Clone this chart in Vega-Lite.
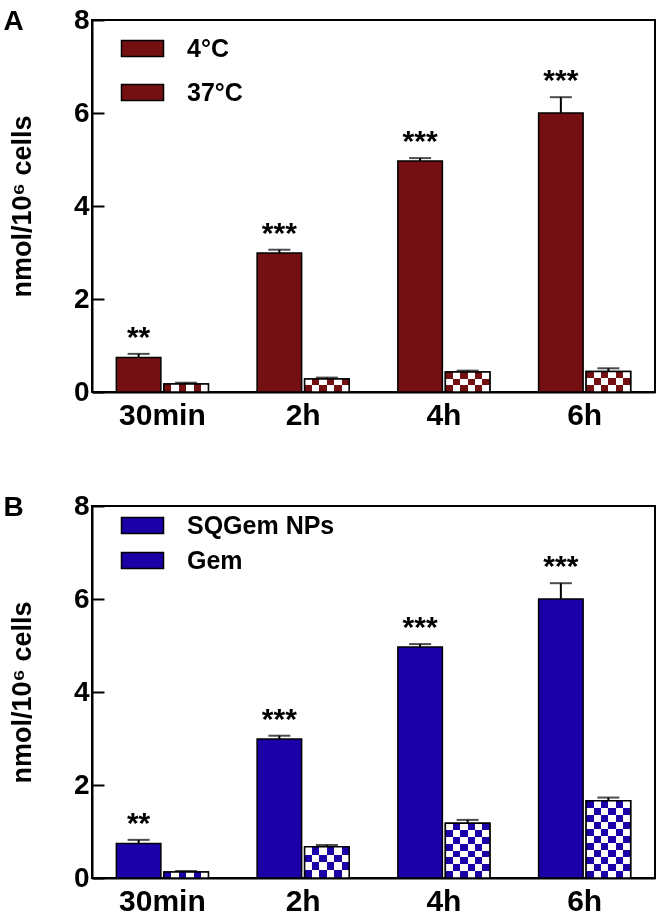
{
  "$schema": "https://vega.github.io/schema/vega-lite/v6.json",
  "padding": {"left": 2, "top": 5, "right": 0, "bottom": 0},
  "spacing": 60,
  "resolve": {"scale": {"xOffset": "independent"}},
  "config": {
    "font": "Liberation Sans",
    "view": {"stroke": "black", "strokeWidth": 2},
    "axis": {"grid": false, "labelFontWeight": "bold", "titleFontWeight": "bold", "labelColor": "black", "titleColor": "black", "domainColor": "black", "tickColor": "black", "labelFont": "Liberation Sans", "titleFont": "Liberation Sans"},
    "legend": {"labelFont": "Liberation Sans", "labelFontWeight": "bold", "labelColor": "black"}
  },
  "vconcat": [
    {
      "width": 563,
      "height": 372,
      "title": {"text": "A", "anchor": "start", "frame": "bounds", "baseline": "top", "offset": -30, "dx": -5, "fontSize": 28, "fontWeight": "bold", "font": "Liberation Sans", "color": "black"},
      "data": {"values": [
        {"time": "30min", "series": "37°C", "mean": 0.74, "err": 0.08, "sig": "**"},
        {"time": "2h", "series": "37°C", "mean": 2.99, "err": 0.07, "sig": "***"},
        {"time": "4h", "series": "37°C", "mean": 4.97, "err": 0.06, "sig": "***"},
        {"time": "6h", "series": "37°C", "mean": 6.0, "err": 0.34, "sig": "***"},
        {"time": "30min", "series": "4°C", "mean": 0.17, "err": 0.03, "sig": null},
        {"time": "2h", "series": "4°C", "mean": 0.28, "err": 0.03, "sig": null},
        {"time": "4h", "series": "4°C", "mean": 0.43, "err": 0.03, "sig": null},
        {"time": "6h", "series": "4°C", "mean": 0.44, "err": 0.07, "sig": null}
      ]},
      "transform": [{"calculate": "datum.mean + datum.err", "as": "hi"}],
      "encoding": {
        "x": {"field": "time", "type": "nominal", "scale": {"domain": ["30min", "2h", "4h", "6h"], "paddingInner": 0.346, "paddingOuter": 0.173}, "axis": {"title": null, "labelAngle": 0, "ticks": false, "labelFontSize": 30, "labelPadding": 8, "domainWidth": 2}},
        "xOffset": {"field": "series", "type": "nominal", "scale": {"domain": ["37°C", "4°C"], "paddingInner": 0.063}},
        "y": {"field": "mean", "type": "quantitative", "scale": {"domain": [0, 8], "nice": false}, "axis": {"title": "nmol/10⁶ cells", "values": [0, 2, 4, 6, 8], "tickSize": -12, "tickWidth": 2, "domainWidth": 2, "labelFontSize": 28, "labelPadding": 15, "titleFontSize": 27, "titlePadding": 37}}
      },
      "layer": [
        {"mark": {"type": "rule", "color": "black", "strokeWidth": 2}, "encoding": {"y": {"field": "hi", "type": "quantitative"}, "y2": {"field": "mean"}}},
        {"mark": {"type": "tick", "color": "black", "thickness": 2, "size": 22, "orient": "horizontal"}, "encoding": {"y": {"field": "hi", "type": "quantitative"}}},
        {"mark": {"type": "bar", "stroke": "black", "strokeWidth": 1.5},
         "encoding": {"fill": {"field": "series", "type": "nominal", "scale": {"domain": ["4°C", "37°C"], "range": ["#741012", "#741012"]},
           "legend": {"orient": "none", "legendX": 38, "legendY": 16, "title": null, "symbolType": "M-2.1,-0.8H2.1V0.8H-2.1Z", "symbolSize": 400, "labelFontSize": 25, "labelOffset": 32, "rowPadding": 18, "symbolStrokeColor": "black", "symbolStrokeWidth": 1.5, "symbolOpacity": 1}}}},
        {"transform": [{"filter": "datum.series === '4°C'"}],
         "mark": {"type": "bar", "fill": {"gradient": "linear", "x1": 0, "y1": 0, "x2": 1, "y2": 0, "stops": [
           {"offset": 0, "color": "black"}, {"offset": 0.1667, "color": "black"}, {"offset": 0.1667, "color": "white"}, {"offset": 0.3333, "color": "white"},
           {"offset": 0.3333, "color": "black"}, {"offset": 0.5, "color": "black"}, {"offset": 0.5, "color": "white"}, {"offset": 0.6667, "color": "white"},
           {"offset": 0.6667, "color": "black"}, {"offset": 0.8333, "color": "black"}, {"offset": 0.8333, "color": "white"}, {"offset": 1, "color": "white"}]}}},
        {"transform": [{"filter": "datum.series === '4°C' && datum.time === '30min'"}],
         "mark": {"type": "bar", "blend": "difference", "fill": "black"}},
        {"transform": [{"filter": "datum.series === '4°C' && datum.time === '2h'"}],
         "mark": {"type": "bar", "blend": "difference", "fill": {"gradient": "linear", "x1": 0, "y1": 1, "x2": 0, "y2": 0, "stops": [{"offset": 0, "color": "black"}, {"offset": 0.5, "color": "black"}, {"offset": 0.5, "color": "white"}, {"offset": 1, "color": "white"}]}}},
        {"transform": [{"filter": "datum.series === '4°C' && (datum.time === '4h' || datum.time === '6h')"}],
         "mark": {"type": "bar", "blend": "difference", "fill": {"gradient": "linear", "x1": 0, "y1": 1, "x2": 0, "y2": 0, "stops": [{"offset": 0, "color": "black"}, {"offset": 0.3333, "color": "black"}, {"offset": 0.3333, "color": "white"}, {"offset": 0.6667, "color": "white"}, {"offset": 0.6667, "color": "black"}, {"offset": 1, "color": "black"}]}}},
        {"transform": [{"filter": "datum.series === '4°C'"}],
         "mark": {"type": "bar", "fill": "#741012", "blend": "lighten"}},
        {"transform": [{"filter": "datum.series === '4°C'"}],
         "mark": {"type": "bar", "fill": "white", "fillOpacity": 0, "stroke": "black", "strokeWidth": 1.5}},
        {"transform": [{"filter": "datum.sig !== null"}],
         "mark": {"type": "text", "font": "Liberation Sans", "fontWeight": "bold", "fontSize": 30, "baseline": "alphabetic", "dy": -7, "color": "black"},
         "encoding": {"y": {"field": "hi", "type": "quantitative"}, "text": {"field": "sig"}}}
      ]
    },
    {
      "width": 563,
      "height": 372,
      "title": {"text": "B", "anchor": "start", "frame": "bounds", "baseline": "top", "offset": -30, "dx": -5, "fontSize": 28, "fontWeight": "bold", "font": "Liberation Sans", "color": "black"},
      "data": {"values": [
        {"time": "30min", "series": "SQGem NPs", "mean": 0.74, "err": 0.08, "sig": "**"},
        {"time": "2h", "series": "SQGem NPs", "mean": 2.99, "err": 0.07, "sig": "***"},
        {"time": "4h", "series": "SQGem NPs", "mean": 4.97, "err": 0.06, "sig": "***"},
        {"time": "6h", "series": "SQGem NPs", "mean": 6.0, "err": 0.34, "sig": "***"},
        {"time": "30min", "series": "Gem", "mean": 0.13, "err": 0.02, "sig": null},
        {"time": "2h", "series": "Gem", "mean": 0.67, "err": 0.04, "sig": null},
        {"time": "4h", "series": "Gem", "mean": 1.18, "err": 0.07, "sig": null},
        {"time": "6h", "series": "Gem", "mean": 1.66, "err": 0.07, "sig": null}
      ]},
      "transform": [{"calculate": "datum.mean + datum.err", "as": "hi"}],
      "encoding": {
        "x": {"field": "time", "type": "nominal", "scale": {"domain": ["30min", "2h", "4h", "6h"], "paddingInner": 0.346, "paddingOuter": 0.173}, "axis": {"title": null, "labelAngle": 0, "ticks": false, "labelFontSize": 30, "labelPadding": 8, "domainWidth": 2}},
        "xOffset": {"field": "series", "type": "nominal", "scale": {"domain": ["SQGem NPs", "Gem"], "paddingInner": 0.063}},
        "y": {"field": "mean", "type": "quantitative", "scale": {"domain": [0, 8], "nice": false}, "axis": {"title": "nmol/10⁶ cells", "values": [0, 2, 4, 6, 8], "tickSize": -12, "tickWidth": 2, "domainWidth": 2, "labelFontSize": 28, "labelPadding": 15, "titleFontSize": 27, "titlePadding": 37}}
      },
      "layer": [
        {"mark": {"type": "rule", "color": "black", "strokeWidth": 2}, "encoding": {"y": {"field": "hi", "type": "quantitative"}, "y2": {"field": "mean"}}},
        {"mark": {"type": "tick", "color": "black", "thickness": 2, "size": 22, "orient": "horizontal"}, "encoding": {"y": {"field": "hi", "type": "quantitative"}}},
        {"mark": {"type": "bar", "stroke": "black", "strokeWidth": 1.5},
         "encoding": {"color": {"field": "series", "type": "nominal", "scale": {"domain": ["SQGem NPs", "Gem"], "range": ["#1A00A6", "#1A00A6"]},
           "legend": {"orient": "none", "legendX": 38, "legendY": 493, "title": null, "symbolType": "M-2.1,-0.8H2.1V0.8H-2.1Z", "symbolSize": 400, "labelFontSize": 25, "labelOffset": 32, "rowPadding": 9, "symbolStrokeColor": "black", "symbolStrokeWidth": 1.5, "symbolOpacity": 1}}}},
        {"transform": [{"filter": "datum.series === 'Gem'"}],
         "mark": {"type": "bar", "fill": {"gradient": "linear", "x1": 0, "y1": 0, "x2": 1, "y2": 0, "stops": [
           {"offset": 0, "color": "black"}, {"offset": 0.1667, "color": "black"}, {"offset": 0.1667, "color": "white"}, {"offset": 0.3333, "color": "white"},
           {"offset": 0.3333, "color": "black"}, {"offset": 0.5, "color": "black"}, {"offset": 0.5, "color": "white"}, {"offset": 0.6667, "color": "white"},
           {"offset": 0.6667, "color": "black"}, {"offset": 0.8333, "color": "black"}, {"offset": 0.8333, "color": "white"}, {"offset": 1, "color": "white"}]}}},
        {"transform": [{"filter": "datum.series === 'Gem' && datum.time === '30min'"}],
         "mark": {"type": "bar", "blend": "difference", "fill": "black"}},
        {"transform": [{"filter": "datum.series === 'Gem' && datum.time === '2h'"}],
         "mark": {"type": "bar", "blend": "difference", "fill": {"gradient": "linear", "x1": 0, "y1": 1, "x2": 0, "y2": 0, "stops": [{"offset": 0, "color": "black"}, {"offset": 0.25, "color": "black"}, {"offset": 0.25, "color": "white"}, {"offset": 0.5, "color": "white"}, {"offset": 0.5, "color": "black"}, {"offset": 0.75, "color": "black"}, {"offset": 0.75, "color": "white"}, {"offset": 1, "color": "white"}]}}},
        {"transform": [{"filter": "datum.series === 'Gem' && datum.time === '4h'"}],
         "mark": {"type": "bar", "blend": "difference", "fill": {"gradient": "linear", "x1": 0, "y1": 1, "x2": 0, "y2": 0, "stops": [{"offset": 0, "color": "black"}, {"offset": 0.125, "color": "black"}, {"offset": 0.125, "color": "white"}, {"offset": 0.25, "color": "white"}, {"offset": 0.25, "color": "black"}, {"offset": 0.375, "color": "black"}, {"offset": 0.375, "color": "white"}, {"offset": 0.5, "color": "white"}, {"offset": 0.5, "color": "black"}, {"offset": 0.625, "color": "black"}, {"offset": 0.625, "color": "white"}, {"offset": 0.75, "color": "white"}, {"offset": 0.75, "color": "black"}, {"offset": 0.875, "color": "black"}, {"offset": 0.875, "color": "white"}, {"offset": 1, "color": "white"}]}}},
        {"transform": [{"filter": "datum.series === 'Gem' && datum.time === '6h'"}],
         "mark": {"type": "bar", "blend": "difference", "fill": {"gradient": "linear", "x1": 0, "y1": 1, "x2": 0, "y2": 0, "stops": [{"offset": 0, "color": "black"}, {"offset": 0.0909, "color": "black"}, {"offset": 0.0909, "color": "white"}, {"offset": 0.1818, "color": "white"}, {"offset": 0.1818, "color": "black"}, {"offset": 0.2727, "color": "black"}, {"offset": 0.2727, "color": "white"}, {"offset": 0.3636, "color": "white"}, {"offset": 0.3636, "color": "black"}, {"offset": 0.4545, "color": "black"}, {"offset": 0.4545, "color": "white"}, {"offset": 0.5455, "color": "white"}, {"offset": 0.5455, "color": "black"}, {"offset": 0.6364, "color": "black"}, {"offset": 0.6364, "color": "white"}, {"offset": 0.7273, "color": "white"}, {"offset": 0.7273, "color": "black"}, {"offset": 0.8182, "color": "black"}, {"offset": 0.8182, "color": "white"}, {"offset": 0.9091, "color": "white"}, {"offset": 0.9091, "color": "black"}, {"offset": 1, "color": "black"}]}}},
        {"transform": [{"filter": "datum.series === 'Gem'"}],
         "mark": {"type": "bar", "fill": "#1A00A6", "blend": "lighten"}},
        {"transform": [{"filter": "datum.series === 'Gem'"}],
         "mark": {"type": "bar", "fill": "white", "fillOpacity": 0, "stroke": "black", "strokeWidth": 1.5}},
        {"transform": [{"filter": "datum.sig !== null"}],
         "mark": {"type": "text", "font": "Liberation Sans", "fontWeight": "bold", "fontSize": 30, "baseline": "alphabetic", "dy": -7, "color": "black"},
         "encoding": {"y": {"field": "hi", "type": "quantitative"}, "text": {"field": "sig"}}}
      ]
    }
  ]
}
